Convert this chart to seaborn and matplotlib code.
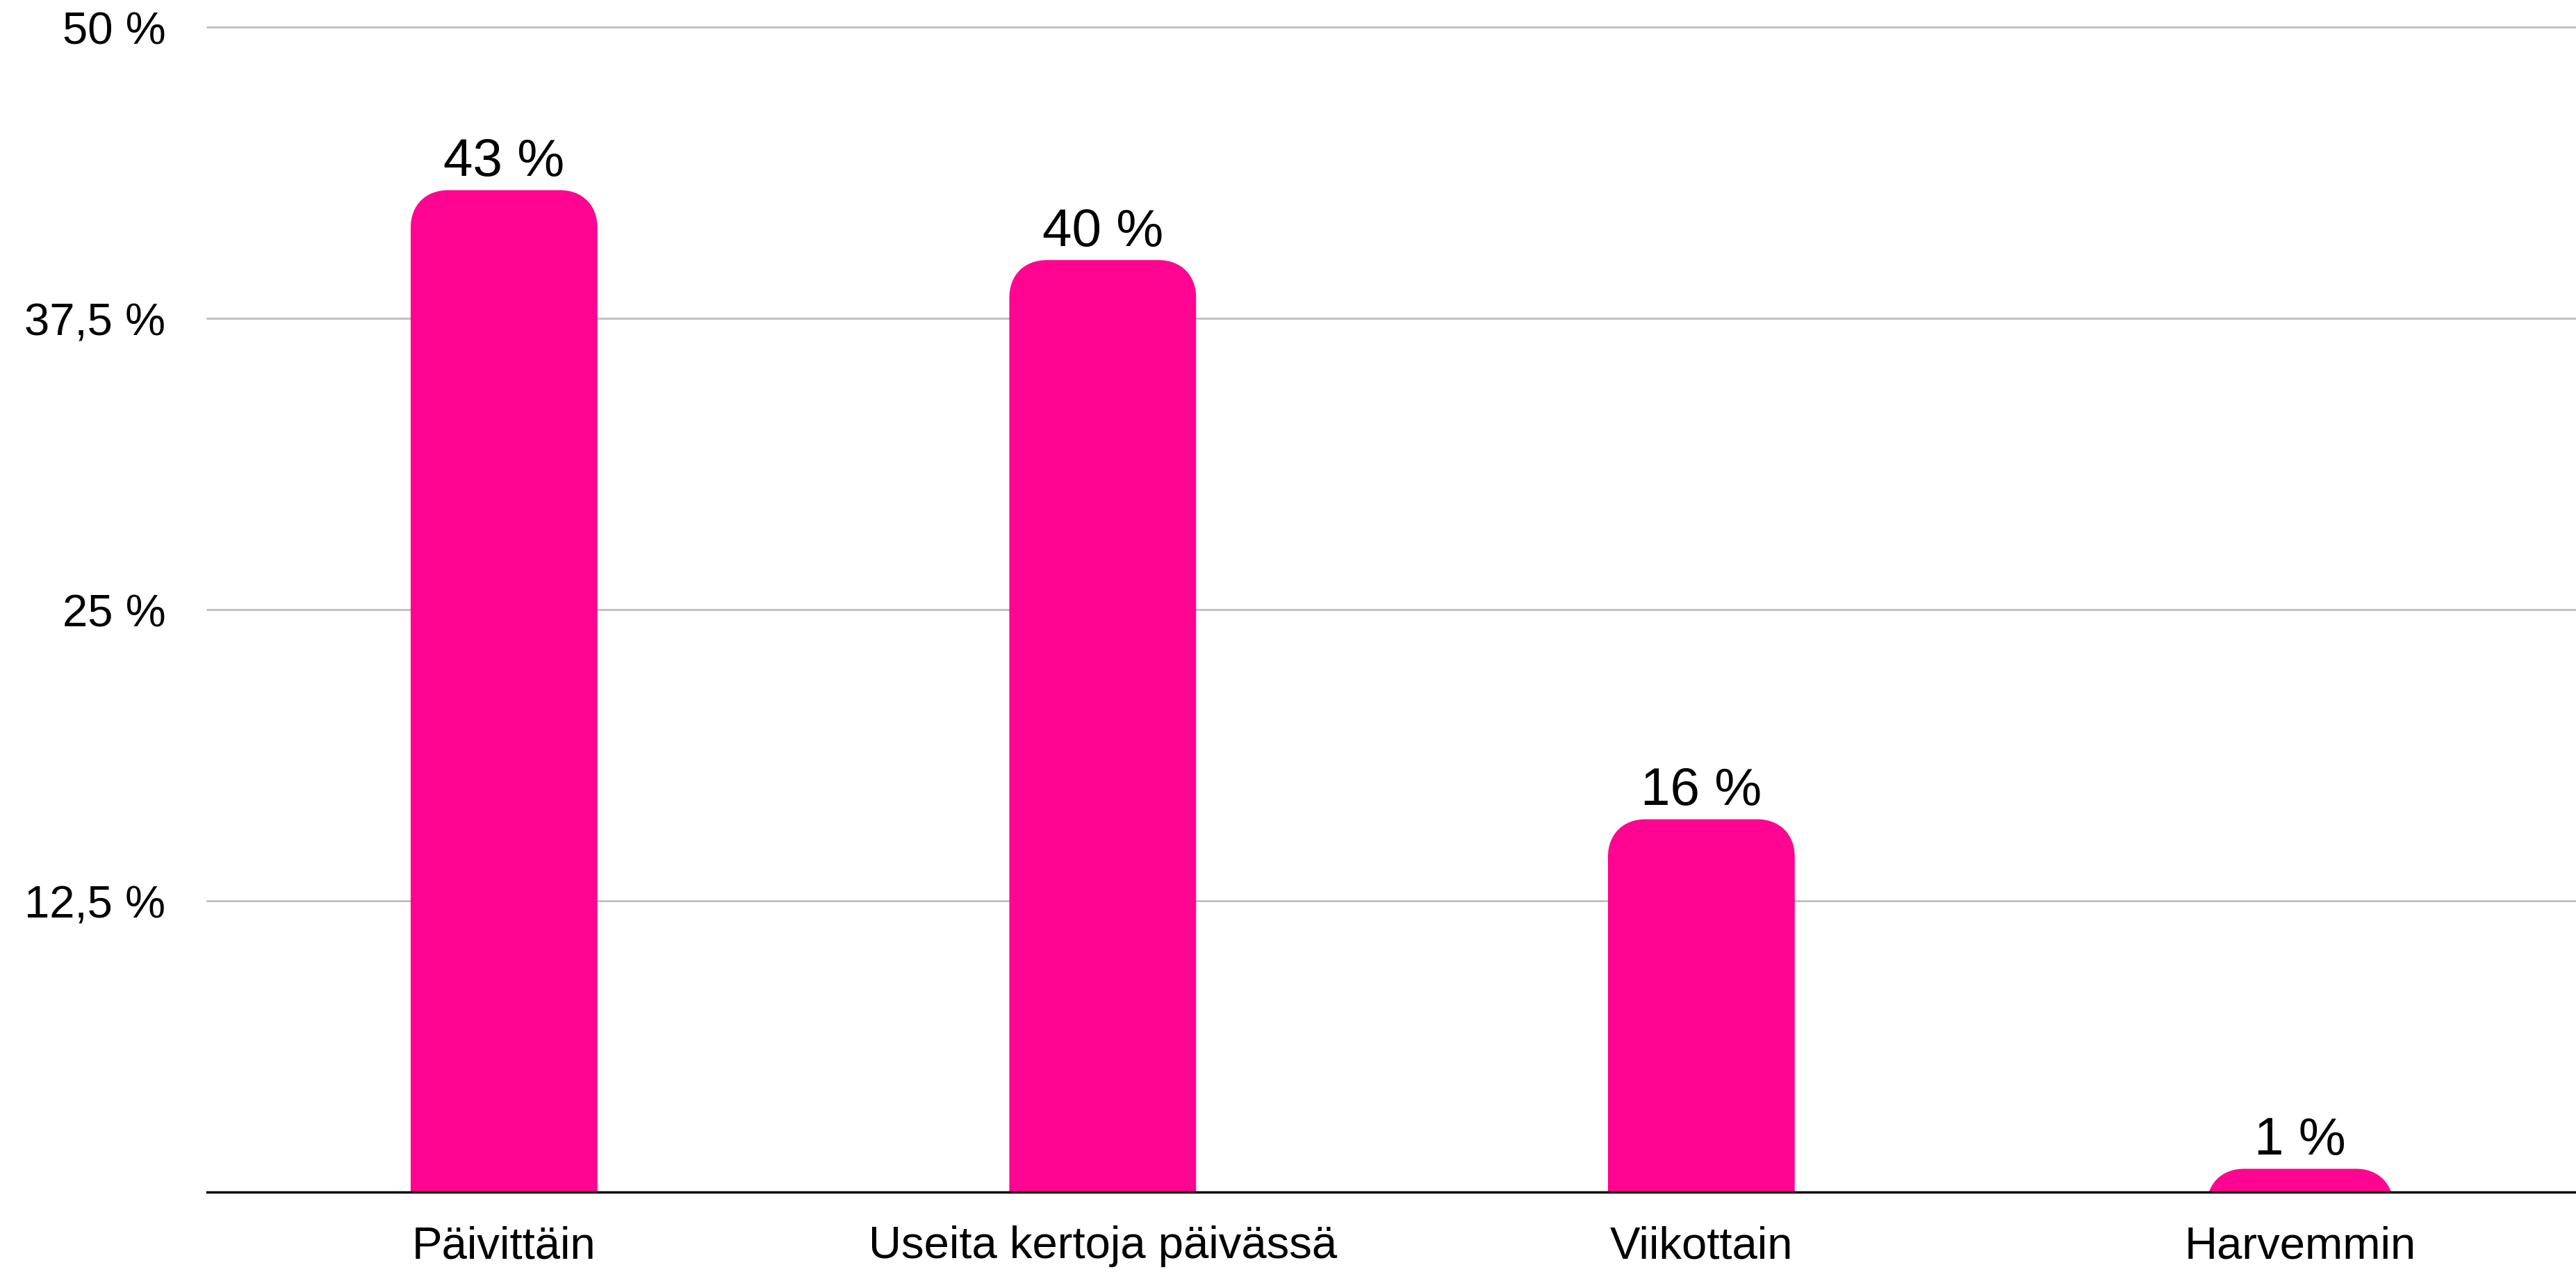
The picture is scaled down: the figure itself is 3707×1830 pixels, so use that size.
import matplotlib
matplotlib.use("Agg")
import matplotlib.pyplot as plt
from matplotlib.patches import PathPatch
from matplotlib.path import Path
from matplotlib.ticker import FixedLocator, FuncFormatter
import seaborn as sns

# data
categories = ["Päivittäin", "Useita kertoja päivässä", "Viikottain", "Harvemmin"]
shares = [43, 40, 16, 1]
y_ticks = [12.5, 25, 37.5, 50]

pink = "#ff0591"

sns.set_theme(style="white")
plt.rcParams["font.family"] = ["Liberation Sans", "DejaVu Sans"]

fig = plt.figure(figsize=(37.07, 18.31), dpi=100)
ax = fig.add_axes([0.0804, 0.0628, 0.9196, 0.9154])

sns.barplot(x=categories, y=shares, color=pink, saturation=1, width=0.312, ax=ax)

ax.set_xlim(-0.496, 3.461)
ax.set_ylim(0, 50)

# value labels above bars
for cont in ax.containers:
    ax.bar_label(cont, labels=[f"{v} %" for v in shares], padding=4, fontsize=55, color="black")


def top_rounded(x0, w, h, rx, ry, k=0.6):
    # bar outline with rounded top corners only
    x1 = x0 + w
    verts = [(x0, 0), (x0, h - ry),
             (x0, h - ry + k * ry), (x0 + rx - k * rx, h), (x0 + rx, h),
             (x1 - rx, h),
             (x1 - rx + k * rx, h), (x1, h - ry + k * ry), (x1, h - ry),
             (x1, 0), (x0, 0)]
    codes = [Path.MOVETO, Path.LINETO,
             Path.CURVE4, Path.CURVE4, Path.CURVE4,
             Path.LINETO,
             Path.CURVE4, Path.CURVE4, Path.CURVE4,
             Path.LINETO, Path.CLOSEPOLY]
    return Path(verts, codes)


# swap plain bars for ones with rounded top corners
fig.canvas.draw()
px_x = ax.transData.transform((1, 0))[0] - ax.transData.transform((0, 0))[0]
px_y = ax.transData.transform((0, 1))[1] - ax.transData.transform((0, 0))[1]
radius_px = 54
for p in list(ax.patches):
    x0, w, h = p.get_x(), p.get_width(), p.get_height()
    p.remove()
    ax.add_patch(PathPatch(top_rounded(x0, w, h, radius_px / px_x, radius_px / px_y),
                           facecolor=pink, edgecolor="none", zorder=2))

# axes styling
ax.yaxis.set_major_locator(FixedLocator(y_ticks))
ax.yaxis.set_major_formatter(FuncFormatter(lambda v, _: f"{v:g} %".replace(".", ",")))
ax.grid(axis="y", color="#c0c0c0", linewidth=2.1)
ax.set_axisbelow(True)
for gl in ax.get_ygridlines():
    gl.set_clip_on(False)
ax.tick_params(axis="y", length=0, pad=43, labelsize=47, labelcolor="black")
ax.tick_params(axis="x", length=0, pad=34, labelsize=47, labelcolor="black")
for side in ["left", "right", "top"]:
    ax.spines[side].set_visible(False)
ax.spines["bottom"].set_color("black")
ax.spines["bottom"].set_linewidth(2.5)
ax.set_xlabel("")
ax.set_ylabel("")

fig.savefig("out.png", dpi=100, facecolor="white")
